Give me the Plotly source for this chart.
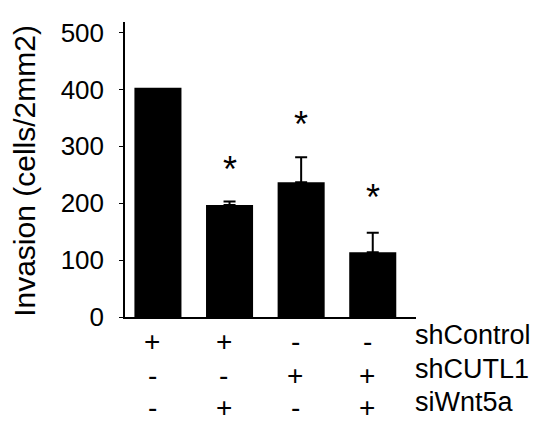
import plotly.graph_objects as go

groups = [0, 1, 2, 3]
invasion = [403, 197, 237, 114]
err_up = [0, 6, 44, 34]
star_y = [None, 250, 329, 202]
row_labels = ["shControl", "shCUTL1", "siWnt5a"]
row_signs = [
    ["+", "+", "-", "-"],
    ["-", "-", "+", "+"],
    ["-", "+", "-", "+"],
]
y_ticks = [0, 100, 200, 300, 400, 500]
y_title = "Invasion (cells/2mm2)"

FONT = "Liberation Sans, Arial, sans-serif"

fig = go.Figure()
fig.add_trace(go.Bar(
    x=groups, y=invasion, width=0.657,
    marker=dict(color="black", line=dict(width=0)),
    showlegend=False, hoverinfo="skip",
))

# error bars only where an error exists
eg = [g for g, e in zip(groups, err_up) if e > 0]
ev = [v for v, e in zip(invasion, err_up) if e > 0]
ee = [e for e in err_up if e > 0]
fig.add_trace(go.Scatter(
    x=eg, y=ev, mode="markers", marker=dict(size=0, color="black", opacity=0),
    error_y=dict(type="data", symmetric=False, array=ee, arrayminus=[0]*len(ee),
                 color="black", thickness=2, width=6),
    showlegend=False,
))

annotations = []
for g, sy in zip(groups, star_y):
    if sy is None:
        continue
    annotations.append(dict(x=g, y=sy, xref="x", yref="y", text="*",
                            showarrow=False, font=dict(size=36, color="black", family=FONT),
                            yanchor="middle", yshift=5))

row_y = [-0.0826, -0.197, -0.308]
for r, (lab, signs) in enumerate(zip(row_labels, row_signs)):
    annotations.append(dict(x=1.0, y=row_y[r], xref="paper", yref="paper", text=lab,
                            showarrow=False, xanchor="left", yanchor="middle",
                            yshift=6, xshift=-3,
                            font=dict(size=27, color="black", family=FONT)))
    for g, s in zip(groups, signs):
        annotations.append(dict(x=g - 0.08, y=row_y[r], xref="x", yref="paper", text=s,
                                showarrow=False, xanchor="center", yanchor="middle",
                                font=dict(size=28, color="black", family=FONT)))

annotations.append(dict(x=-0.344, y=0.495, xref="paper", yref="paper", text=y_title,
                        textangle=-90, showarrow=False, xanchor="center", yanchor="middle",
                        font=dict(size=30, color="black", family=FONT)))

fig.update_layout(
    width=543, height=428,
    margin=dict(l=117, r=135, t=10, b=119),
    paper_bgcolor="white", plot_bgcolor="white",
    font=dict(family=FONT, color="black"),
    annotations=annotations,
    xaxis=dict(range=[-0.46, 3.604], showticklabels=False, ticks="",
               showline=True, linecolor="black", linewidth=1.5,
               showgrid=False, zeroline=False, fixedrange=True),
    yaxis=dict(range=[0, 518.5], tickvals=y_ticks, ticks="outside", ticklen=4,
               tickcolor="black", tickwidth=1, ticklabelstandoff=10,
               showline=True, linecolor="black", linewidth=1.5,
               showgrid=False, zeroline=False,
               tickfont=dict(size=26, family=FONT, color="black")),
)

fig.write_html("out.html")
